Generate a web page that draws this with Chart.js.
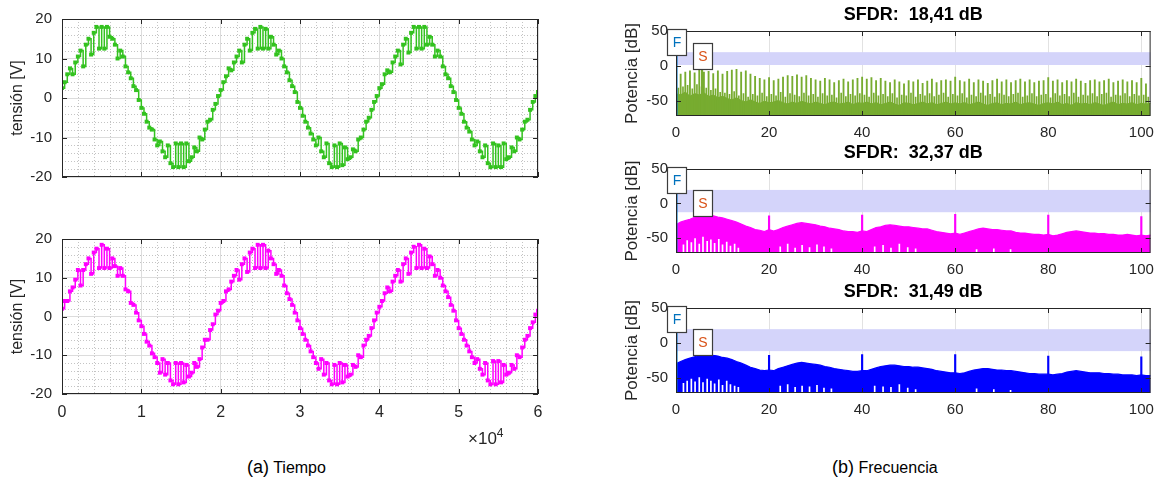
<!DOCTYPE html>
<html>
<head>
<meta charset="utf-8">
<script src="https://cdn.jsdelivr.net/npm/chart.js@4.4.0/dist/chart.umd.min.js"></script>
<style>
  body { margin: 0; background: #fff; width: 1162px; height: 488px; position: relative; overflow: hidden;
         font-family: 'Liberation Sans', Arial, sans-serif; }
  canvas { position: absolute; }
  .cap { position: absolute; top: 457px; font-size: 16px; color: #000; white-space: nowrap; }
  .cap span { font-size: 18px; }
  .exp { position: absolute; left: 468px; top: 426px; font-size: 17px; color: #262626; }
  .exp sup { font-size: 12px; }
</style>
</head>
<body>
<canvas id="timeA" width="560" height="205" style="left:0;top:0"></canvas>
<canvas id="timeB" width="560" height="230" style="left:0;top:220px"></canvas>
<canvas id="spec1" width="562" height="145" style="left:600px;top:0"></canvas>
<canvas id="spec2" width="562" height="139" style="left:600px;top:145px"></canvas>
<canvas id="spec3" width="562" height="156" style="left:600px;top:284px"></canvas>
<div class="exp">×10<sup>4</sup></div>
<div class="cap" style="left:247px"><span>(a)</span> Tiempo</div>
<div class="cap" style="left:832px"><span>(b)</span> Frecuencia</div>

<script>
const FONT = "'Liberation Sans', Arial, sans-serif";
const INK = '#262626';

// ---- time domain: one sample every 60000/180 ----
const tStep = 60000 / 180;
const tXTicks = [0, 10000, 20000, 30000, 40000, 50000, 60000];
const tYTicks = [-20, -10, 0, 10, 20];

const vGreen = [
  2.5, 4, 6, 7.5, 6, 9, 10.5, 12, 8, 13.5,
  15, 11, 16.5, 18, 12.5, 18, 12.5, 18, 15.5, 15,
  13.5, 10, 12, 10.5, 8, 6.5, 5, 3, 2, -0.5,
  -2.5, -4, -6, -7.5, -8, -10.5, -12, -11, -13.5, -15,
  -12, -16.5, -17.5, -11.5, -17.5, -11.5, -17.5, -11.5, -16, -15,
  -12.5, -13.5, -10, -10.5, -8, -6, -5.5, -3, -1.5, 0.5,
  2, 4, 5.5, 7.5, 7, 9, 10.5, 12, 9, 13.5,
  15, 12, 16.5, 17.5, 12.5, 18, 12.5, 17.5, 12.5, 15.5,
  13.5, 11, 12, 10, 8, 6.5, 4.5, 3, 1.5, -1,
  -2.5, -4.5, -6, -7.5, -9, -10.5, -12, -10, -13.5, -15,
  -11.5, -16.5, -17.5, -12, -17.5, -11.5, -17, -12.5, -15.5, -15,
  -13, -13.5, -10.5, -10, -8, -6, -5, -3, -1, 0.5,
  2.5, 3.5, 6, 7, 6.5, 9, 10.5, 12, 8.5, 13.5,
  15, 11.5, 16.5, 18, 12.5, 18, 12.5, 18, 13.5, 15.5,
  13.5, 10.5, 12, 10.5, 8, 6, 5, 3, 1.5, -0.5,
  -2.5, -4, -6, -7.5, -8.5, -10.5, -12, -11, -13.5, -15,
  -12, -16.5, -17.5, -11.5, -17.5, -12, -17.5, -11.5, -15.5, -15,
  -12.5, -13.5, -10, -10.5, -8, -6, -5.5, -3, -1, 0.5,
  1.5
];

const vMagenta = [
  2, 4, 4, 6.5, 7.5, 9.5, 12, 8, 12, 13.5,
  15, 11, 16.5, 17.5, 12.5, 18.5, 12.5, 17.5, 12.5, 15,
  13, 10.5, 12.5, 10.5, 7, 6.5, 3.5, 3, 1, -1,
  -2.5, -4.5, -6.5, -7.5, -9.5, -10.5, -12, -14.5, -11, -15,
  -12, -16.5, -17.5, -12, -17.5, -12, -17, -12.5, -15.5, -14.5,
  -12, -13, -11, -8, -6, -6, -3.5, -2, 0.5, 1.5,
  3.5, 4, 6.5, 7, 9, 10.5, 12, 9.5, 13.5, 15,
  11.5, 16.5, 17.5, 12.5, 18.5, 12.5, 18.5, 12.5, 17, 15,
  13.5, 11, 12, 10.5, 8, 6, 4.5, 3, 1, -1,
  -3, -4.5, -6, -7.5, -9, -10.5, -12, -13.5, -11, -15,
  -12, -16.5, -17.5, -12.5, -17.5, -12, -17, -12.5, -15.5, -15,
  -12.5, -13, -10, -10.5, -7.5, -6, -5, -3, -1, 1,
  2.5, 4, 6, 7.5, 6.5, 9, 10.5, 12, 9, 13.5,
  15, 11, 16.5, 18, 12.5, 18.5, 12.5, 17.5, 12.5, 15.5,
  13.5, 10.5, 12, 10, 8, 6.5, 5, 3, 1.5, -1,
  -3, -4.5, -6, -7.5, -9, -10.5, -12, -11, -13.5, -15,
  -12, -16.5, -17.5, -11.5, -17.5, -11.5, -17, -12.5, -15, -14.5,
  -12.5, -13.5, -10, -10.5, -8, -6, -5, -3, -1.5, 0.5,
  1.5
];

// ---- spectra (x in kHz, y in dB) ----
const fXTicks = [0, 20, 40, 60, 80, 100];
const fYTicks = [-50, 0, 50];
const fMin = -72, fMax = 50, fXMax = 102;
const fundX = 0.1, fundLevel = 19.6;
const spurX = 5.6;
const sfdrValues = [18.41, 32.37, 31.49];
const sfdrTitles = ['SFDR:  18,41 dB', 'SFDR:  32,37 dB', 'SFDR:  31,49 dB'];

// green spectrum: noise floor at x = 0..102, spikes at x = 1..101, smaller spikes at x = 0.5..101.5
const floorGreen = [
  -40, -42, -38, -44, -40, -42, -39, -44, -42, -46, -44,
  -47, -49, -46, -50, -52, -49, -52, -54, -51, -53,
  -52, -50, -53, -55, -52, -54, -51, -53, -55, -52, -54, -56, -53, -52, -55, -54, -52, -56, -53, -54,
  -52, -55, -53, -56, -54, -52, -55, -57, -53, -54, -56, -54, -52, -55, -53, -56, -54, -52, -55, -53,
  -55, -53, -56, -54, -52, -55, -57, -54, -53, -56, -54, -55, -52, -56, -54, -53, -55, -57, -54, -53,
  -55, -52, -56, -54, -57, -53, -55, -54, -56, -53, -55, -57, -54, -52, -56, -54, -55, -53, -56, -54, -55, -54
];
const spikesGreen = [
  -12, -9, -7, -10, -6, -9, -8, -11, -7, -12,
  -8, -6, -5, -9, -7, -12, -15, -18, -20, -17,
  -21, -19, -16, -14, -15, -13, -16, -14, -18, -20,
  -22, -18, -20, -24, -21, -19, -23, -20, -18, -16,
  -19, -17, -21, -18, -22, -24, -20, -23, -26, -21,
  -23, -20, -25, -22, -19, -24, -21, -20, -22, -16,
  -21, -23, -19, -24, -20, -22, -25, -21, -19, -23,
  -20, -24, -21, -19, -23, -20, -24, -22, -21, -17,
  -22, -20, -24, -21, -23, -19, -22, -25, -21, -20,
  -23, -21, -19, -24, -22, -20, -23, -21, -24, -18, -26
];
const minorGreen = [
  -32, -30, -28, -33, -27, -30, -32, -35, -33, -38,
  -39, -41, -37, -43, -40, -45, -41, -43, -39, -44,
  -41, -43, -38, -45, -40, -42, -44, -39, -43, -41,
  -45, -40, -43, -42, -46, -39, -44, -41, -43, -40,
  -42, -45, -39, -43, -41, -44, -40, -46, -42, -43,
  -39, -45, -41, -43, -40, -44, -42, -39, -45, -41,
  -43, -40, -46, -42, -44, -39, -43, -41, -45, -40,
  -42, -44, -41, -39, -45, -43, -40, -44, -42, -41,
  -46, -40, -43, -41, -44, -39, -45, -42, -43, -40,
  -44, -41, -39, -45, -42, -43, -40, -44, -41, -43,
  -42, -45
];

// upper edge of the broadband noise at x = 0..102
const envMagenta = [
  -31, -27, -25, -23, -20, -18, -16, -17, -18, -20,
  -21, -23, -25, -27, -30, -33, -35, -38, -39, -41,
  -38, -40, -38, -35, -33, -31, -29, -28, -29, -30,
  -31, -33, -34, -36, -37, -38, -40, -41, -41, -42,
  -40, -41, -38, -35, -34, -32, -31, -32, -33, -34,
  -34, -35, -36, -37, -37, -39, -41, -42, -43, -44,
  -43, -45, -43, -41, -39, -37, -36, -37, -38, -38,
  -39, -40, -40, -42, -43, -43, -44, -45, -45, -46,
  -45, -47, -46, -44, -42, -41, -40, -41, -42, -43,
  -43, -44, -44, -45, -45, -46, -46, -45, -46, -47,
  -46, -47, -46
];
const envBlue = [
  -30, -27, -24, -22, -20, -18, -16, -16, -18, -19,
  -21, -22, -24, -27, -29, -32, -35, -37, -39, -40,
  -39, -40, -37, -35, -33, -31, -29, -28, -29, -30,
  -31, -32, -34, -35, -37, -38, -39, -40, -41, -41,
  -40, -40, -38, -36, -34, -33, -32, -32, -33, -34,
  -34, -35, -35, -36, -37, -38, -40, -41, -42, -43,
  -43, -44, -43, -41, -39, -38, -37, -37, -38, -39,
  -39, -40, -40, -41, -42, -43, -44, -44, -45, -45,
  -45, -46, -45, -44, -42, -41, -40, -41, -42, -43,
  -43, -43, -44, -44, -45, -45, -46, -46, -46, -47,
  -46, -47, -47
];
const harmX = [20, 40, 60, 80, 100];
const harmMagenta = [-18, -17, -16, -17, -19];
const harmBlue = [-18, -17, -17, -19, -20];

// openings at the bottom of the noise band
const gapX = [1.6, 2.4, 3.3, 4.1, 5.0, 5.8, 6.7, 7.5, 8.3, 9.2, 10.0, 10.9, 11.7, 12.6, 13.4,
  22.4, 24.0, 25.6, 27.1, 28.7, 30.3, 31.8, 33.4, 42.7, 44.5, 46.2, 48.0, 49.8, 51.5, 64.6, 68.3, 71.9];
const gapMagenta = [-60, -54, -57, -51, -59, -49, -55, -53, -58, -52, -60, -56, -62, -59, -65,
  -63, -59, -65, -61, -64, -60, -63, -66, -63, -61, -65, -59, -64, -66, -67, -66, -67];
const gapBlue = [-58, -55, -52, -56, -50, -57, -52, -55, -59, -53, -61, -55, -60, -62, -64,
  -62, -60, -64, -62, -63, -61, -65, -66, -62, -63, -64, -60, -65, -67, -66, -67, -68];

const C_GREEN = '#33c21f', C_MAG = '#ff00ff';
const S_GREEN = '#77ac30', S_MAG = '#ff00ff', S_BLUE = '#0000ff';
const C_FUND = '#0072bd', C_SPUR = '#d95319';

Chart.defaults.font.family = FONT;

const setTicks = (list) => (s) => { s.ticks = list.map(v => ({ value: v })); };

// box around the axes plus inward tick marks
const framePlugin = {
  id: 'frame',
  afterDatasetsDraw(chart) {
    const { ctx, chartArea: a, scales: { x, y } } = chart;
    ctx.save();
    ctx.strokeStyle = INK;
    ctx.lineWidth = 1;
    ctx.strokeRect(a.left + 0.5, a.top + 0.5, a.right - a.left - 1, a.bottom - a.top - 1);
    ctx.beginPath();
    x.ticks.forEach(t => {
      const px = Math.round(x.getPixelForValue(t.value)) + 0.5;
      ctx.moveTo(px, a.bottom); ctx.lineTo(px, a.bottom - 5);
      ctx.moveTo(px, a.top); ctx.lineTo(px, a.top + 5);
    });
    y.ticks.forEach(t => {
      const py = Math.round(y.getPixelForValue(t.value)) + 0.5;
      ctx.moveTo(a.left, py); ctx.lineTo(a.left + 5, py);
      ctx.moveTo(a.right, py); ctx.lineTo(a.right - 5, py);
    });
    ctx.stroke();
    ctx.restore();
  }
};

// dotted minor grid for the time plots
const minorGridPlugin = {
  id: 'minorGrid',
  beforeDatasetsDraw(chart) {
    const { ctx, chartArea: a, scales: { x, y } } = chart;
    ctx.save();
    ctx.strokeStyle = '#c4c4c4';
    ctx.lineWidth = 1;
    ctx.setLineDash([1, 2]);
    ctx.beginPath();
    for (let v = x.min; v <= x.max; v += 2000) {
      if (v % 10000 === 0) continue;
      const px = Math.round(x.getPixelForValue(v)) + 0.5;
      ctx.moveTo(px, a.top); ctx.lineTo(px, a.bottom);
    }
    for (let v = y.min; v <= y.max; v += 2) {
      if (v % 10 === 0) continue;
      const py = Math.round(y.getPixelForValue(v)) + 0.5;
      ctx.moveTo(a.left, py); ctx.lineTo(a.right, py);
    }
    ctx.stroke();
    ctx.restore();
  }
};

function labelBox(ctx, cx, bottom, text, color) {
  const w = 19, h = 26;
  const l = Math.round(cx - w / 2) + 0.5, t = Math.round(bottom - h) + 0.5;
  ctx.fillStyle = '#fff';
  ctx.fillRect(l, t, w, h);
  ctx.strokeStyle = '#3c3c3c';
  ctx.lineWidth = 1.2;
  ctx.strokeRect(l, t, w, h);
  ctx.fillStyle = color;
  ctx.font = '14px ' + FONT;
  ctx.textAlign = 'center';
  ctx.textBaseline = 'middle';
  ctx.fillText(text, l + w / 2, t + h / 2 + 1);
}

// SFDR band, F / S markers and the title above each spectrum
const sfdrPlugin = {
  id: 'sfdr',
  beforeDatasetsDraw(chart, args, o) {
    const { ctx, chartArea: a, scales: { x, y } } = chart;
    const x0 = x.getPixelForValue(fundX);
    const y0 = y.getPixelForValue(fundLevel);
    const y1 = y.getPixelForValue(fundLevel - o.sfdr);
    ctx.save();
    ctx.fillStyle = 'rgb(212,212,250)';
    ctx.fillRect(x0, y0, a.right - x0, y1 - y0);
    ctx.restore();
  },
  afterDatasetsDraw(chart, args, o) {
    const { ctx, chartArea: a, scales: { x, y } } = chart;
    ctx.save();
    labelBox(ctx, x.getPixelForValue(fundX), y.getPixelForValue(fundLevel) + 3, 'F', C_FUND);
    labelBox(ctx, x.getPixelForValue(spurX), y.getPixelForValue(fundLevel - o.sfdr) + 4, 'S', C_SPUR);
    ctx.fillStyle = '#000';
    ctx.font = 'bold 18px ' + FONT;
    ctx.textAlign = 'center';
    ctx.textBaseline = 'middle';
    ctx.fillText(o.title, (a.left + a.right) / 2, a.top - 16);
    ctx.restore();
  }
};

function timeChart(id, values, color, showX) {
  return new Chart(document.getElementById(id), {
    type: 'line',
    data: {
      datasets: [{
        data: values.map((v, i) => ({ x: i * tStep, y: v })),
        borderColor: color,
        backgroundColor: color,
        borderWidth: 1.5,
        stepped: true,
        pointStyle: 'rect',
        pointRadius: 2.8,
        pointBorderWidth: 0
      }]
    },
    options: {
      responsive: false, animation: false, events: [], devicePixelRatio: 1,
      layout: { padding: { top: 18, right: 22 } },
      plugins: { legend: { display: false }, tooltip: { enabled: false } },
      scales: {
        x: {
          type: 'linear', min: 0, max: 60000, offset: false,
          afterBuildTicks: setTicks(tXTicks),
          ticks: { display: showX, font: { size: 16 }, color: INK, padding: 9, maxRotation: 0,
                   callback: v => v / 10000 },
          grid: { color: '#dcdcdc', drawTicks: false },
          border: { display: false },
          afterFit: s => { s.height = showX ? 56 : 28; }
        },
        y: {
          min: -20, max: 20,
          afterBuildTicks: setTicks(tYTicks),
          ticks: { font: { size: 15 }, color: INK, padding: 10 },
          grid: { color: '#dcdcdc', drawTicks: false },
          border: { display: false },
          title: { display: true, text: 'tensión [V]', font: { size: 16 }, color: INK, padding: { top: 8, bottom: 0 } },
          afterFit: s => { s.width = 62; }
        }
      }
    },
    plugins: [minorGridPlugin, framePlugin]
  });
}

function bars(points, color, width, order) {
  return { type: 'bar', data: points, backgroundColor: color, barThickness: width,
           grouped: false, borderWidth: 0, order };
}
const fundBar = () => bars([{ x: fundX, y: [fMin, fundLevel] }], C_FUND, 1.5, 0);
const spurBar = (k, color) => bars([{ x: spurX, y: [fMin, fundLevel - sfdrValues[k]] }], color, 1.5, 2);
const envelope = (arr, color) => ({
  type: 'line', data: arr.map((v, i) => ({ x: i, y: v })), borderColor: color, backgroundColor: color,
  borderWidth: 1.2, pointRadius: 0, fill: 'start', order: 5
});

function spectrumChart(id, k, datasets, top, xh) {
  return new Chart(document.getElementById(id), {
    type: 'line',
    data: { datasets },
    options: {
      responsive: false, animation: false, events: [], devicePixelRatio: 1,
      layout: { padding: { top, right: 9 } },
      plugins: { legend: { display: false }, tooltip: { enabled: false },
                 sfdr: { title: sfdrTitles[k], sfdr: sfdrValues[k] } },
      scales: {
        x: {
          type: 'linear', min: 0, max: fXMax, offset: false,
          afterBuildTicks: setTicks(fXTicks),
          ticks: { font: { size: 15 }, color: INK, padding: 8, maxRotation: 0 },
          grid: { color: '#e2e2e2', drawTicks: false, offset: false },
          border: { display: false },
          afterFit: s => { s.height = xh; }
        },
        y: {
          min: fMin, max: fMax,
          afterBuildTicks: setTicks(fYTicks),
          ticks: { font: { size: 15 }, color: INK, padding: 8 },
          grid: { display: false, drawTicks: false },
          border: { display: false },
          title: { display: true, text: 'Potencia [dB]', font: { size: 17 }, color: INK, padding: { top: 22, bottom: 0 } },
          afterFit: s => { s.width = 76; }
        }
      }
    },
    plugins: [framePlugin, sfdrPlugin]
  });
}

timeChart('timeA', vGreen, C_GREEN, false);
timeChart('timeB', vMagenta, C_MAG, true);

spectrumChart('spec1', 0, [
  fundBar(),
  spurBar(0, S_GREEN),
  bars(spikesGreen.map((v, i) => ({ x: i + 1, y: [fMin, v] })), S_GREEN, 1.2, 2),
  bars(minorGreen.map((v, i) => ({ x: i + 0.5, y: [fMin, v] })), S_GREEN, 1, 3),
  envelope(floorGreen, S_GREEN)
], 31, 29);

spectrumChart('spec2', 1, [
  fundBar(),
  bars(gapX.map((x, i) => ({ x, y: [fMin, gapMagenta[i]] })), '#ffffff', 1, 1),
  spurBar(1, S_MAG),
  bars(harmX.map((x, i) => ({ x, y: [fMin, harmMagenta[i]] })), S_MAG, 1.5, 2),
  envelope(envMagenta, S_MAG)
], 24, 31);

spectrumChart('spec3', 2, [
  fundBar(),
  bars(gapX.map((x, i) => ({ x, y: [fMin, gapBlue[i]] })), '#ffffff', 1, 1),
  spurBar(2, S_BLUE),
  bars(harmX.map((x, i) => ({ x, y: [fMin, harmBlue[i]] })), S_BLUE, 1.5, 2),
  envelope(envBlue, S_BLUE)
], 24, 47);
</script>
</body>
</html>
